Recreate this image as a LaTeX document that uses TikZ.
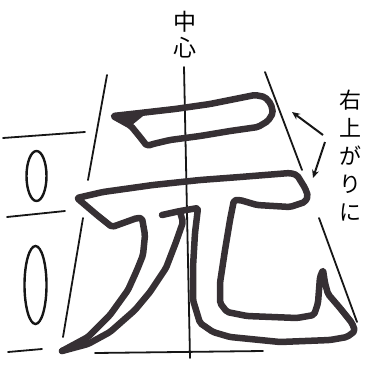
\documentclass[tikz,border=0pt]{standalone}
\usepackage{fontspec}
\newfontfamily\jpfont{Noto Sans CJK JP}
\usepackage{tikz}
\usetikzlibrary{
arrows.meta
}
\definecolor{InkGray}{HTML}{363034}
\definecolor{GuideBlack}{HTML}{161616}

\begin{document}
\begin{tikzpicture}[
    x=1pt,
    y=-1pt,
    font=\jpfont,
    >={Stealth[length=8pt,width=7pt]},
    guide/.style={GuideBlack, line width=1.8pt, line cap=round},
    outline/.style={InkGray, line width=6.5pt, line join=round, line cap=round, rounded corners=2pt},
    oval/.style={GuideBlack, line width=2.4pt},
    pointer/.style={->, GuideBlack, line width=2pt}
]

\useasboundingbox (0,0) rectangle (371,367);

% =====================================================
% GUIDE LINES
% =====================================================
% centre line
\draw[guide] (184,67) -- (190,358);

% left slant
\draw[guide] (107,75) -- (88,180);
\draw[guide] (83,218) -- (63,337);

% right slant
\draw[guide] (265,72) -- (302,170);
\draw[guide] (319,218) -- (357,322);

% spacing marks
\draw[guide] (3,138) -- (85,132);
\draw[guide] (7,217) -- (65,211);
\draw[guide] (8,352) -- (42,349);
\draw[guide] (95,353) -- (263,351);

\draw[oval] (36.5,176) ellipse [x radius=10, y radius=25];
\draw[oval] (35.5,285) ellipse [x radius=11, y radius=39];

% =====================================================
% CHARACTER OUTLINE
% =====================================================
% first stroke
\draw[outline]
(113,116) -- (140,113) -- (175,109) -- (210,104) -- (240,98) -- (255,95)
-- (265,97) -- (271,104) -- (273,113) -- (268,121) -- (258,127) -- (230,131)
-- (200,136) -- (170,140) -- (153,144) -- (147,146) -- (140,137) -- (131,126)
-- cycle;
\fill[InkGray] (113,116) -- (148,112) -- (132,125) -- cycle;

% second stroke with both legs
\draw[outline]
(162,215) -- (180,211) -- (198,208) -- (195,233) -- (193,267) -- (193,300)
-- (200,323) -- (213,332) -- (230,337) -- (280,342) -- (330,340) -- (347,337)
-- (355,331) -- (352,323) -- (340,308) -- (328,294) -- (325,283) -- (323,270)
-- (320,277) -- (318,303) -- (314,315) -- (297,318) -- (247,316) -- (227,312)
-- (220,303) -- (220,283) -- (225,250) -- (230,220) -- (234,200) -- (240,200)
-- (257,205) -- (290,207) -- (305,202) -- (308,196) -- (305,188) -- (297,175)
-- (290,173) -- (240,177) -- (200,180) -- (153,185) -- (103,192) -- (77,198)
-- (97,215) -- (112,227) -- (137,218) -- (142,218) -- (145,235) -- (143,255)
-- (137,270) -- (128,290) -- (110,315) -- (88,337) -- (62,351);
\draw[outline]
(62,351) -- (88,344) -- (110,332) -- (135,310) -- (150,292) -- (166,268)
-- (176,242) -- (183,222) -- (180,212);

% =====================================================
% LABELS
% =====================================================
\node[
    font=\jpfont\fontsize{23}{26}\selectfont,
    align=center,
    inner sep=0pt
]
(centre)
at (185,34.5)
{中\\心};

\node[
    font=\jpfont\fontsize{22}{28}\selectfont,
    align=center,
    inner sep=0pt
]
(rising)
at (350,156)
{右\\上\\が\\り\\に};

% =====================================================
% ARROWS
% =====================================================
\coordinate (fork top) at (323,135);
\coordinate (fork low) at (325,142);
\coordinate (first end) at (292,112);
\coordinate (second end) at (313,178);

\draw[pointer] (fork top) -- (first end);
\draw[pointer] (fork low) -- (second end);

\end{tikzpicture}
\end{document}
